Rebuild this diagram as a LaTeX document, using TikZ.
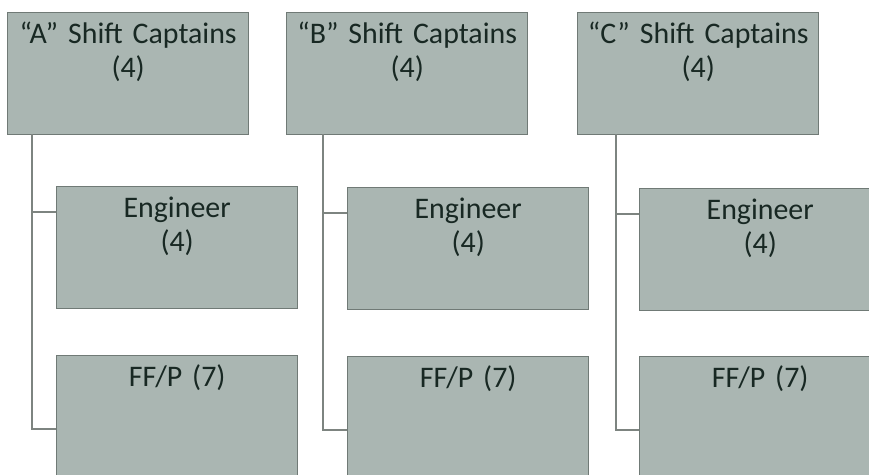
\documentclass[tikz,border=0pt]{standalone}
\usepackage{fontspec}
\setmainfont{Carlito}
\usetikzlibrary{positioning,calc}
\definecolor{boxfill}{RGB}{170,182,178}
\definecolor{boxedge}{RGB}{112,122,118}
\definecolor{boxtext}{RGB}{24,40,35}
\definecolor{tiegray}{RGB}{125,132,128}

\begin{document}
\begin{tikzpicture}[
  x=0.02cm, y=-0.02cm,
  every node/.style={font=\fontsize{17}{19.5}\selectfont},
  rolebox/.style={draw=boxedge, fill=boxfill, line width=0.8pt, anchor=north west, inner sep=0pt,
    text width=4.82cm, align=center, text height=0.62cm, text depth=1.82cm, text=boxtext},
  tie/.style={draw=tiegray, line width=1.6pt}
]
  \clip (0,0) rectangle (869,474);

  % Shift captains
  \node[rolebox] (capA) at (7,12)   {“A” Shift Captains\\(4)};
  \node[rolebox] (capB) at (286,12) {“B” Shift Captains\\(4)};
  \node[rolebox] (capC) at (577,12) {“C” Shift Captains\\(4)};

  % Engineers
  \node[rolebox] (engA) at (56,186)  {Engineer\\(4)};
  \node[rolebox] (engB) at (347,187) {Engineer\\(4)};
  \node[rolebox] (engC) at (639,188) {Engineer\\(4)};

  % FF/P
  \node[rolebox] (ffA) at (56,355)  {FF/P (7)};
  \node[rolebox] (ffB) at (347,356) {FF/P (7)};
  \node[rolebox] (ffC) at (639,356) {FF/P (7)};

  % Trunk lines
  \coordinate (trunkA) at (32,134);
  \coordinate (trunkB) at (323,134);
  \coordinate (trunkC) at (616,134);

  \foreach \c in {A,B,C} {
    \draw[tie] (trunk\c) |- ($(ff\c.north west)+(0,74)$);
    \draw[tie] ($(eng\c.north west)+(0,26)$) -| (trunk\c);
  }
\end{tikzpicture}
\end{document}
